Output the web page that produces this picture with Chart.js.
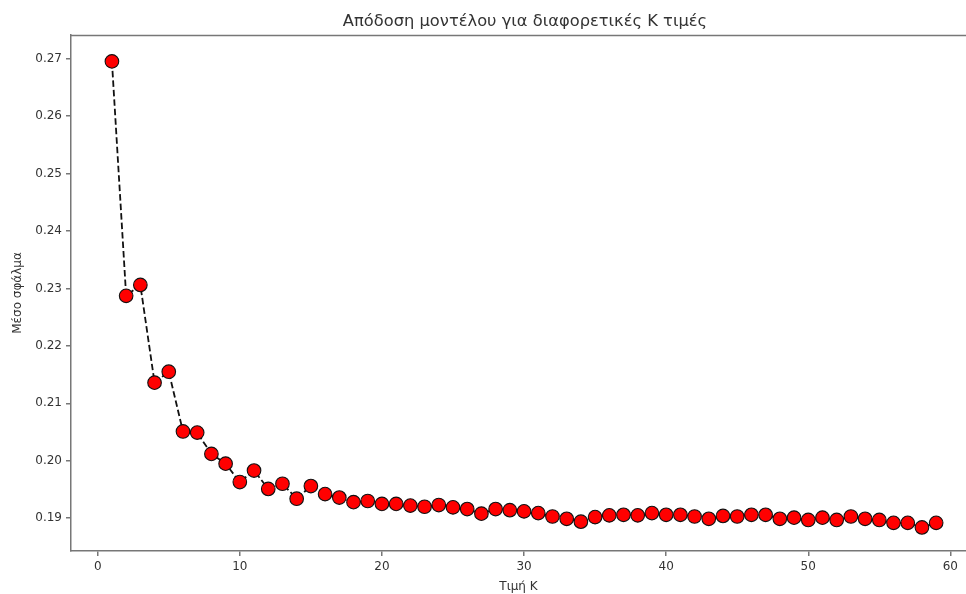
<!DOCTYPE html>
<html>
<head>
<meta charset="utf-8">
<script src="https://cdn.jsdelivr.net/npm/chart.js@4.4.1/dist/chart.umd.min.js"></script>
<style>
  html, body { margin: 0; padding: 0; background: #fff; }
  #wrap { width: 966px; height: 594px; }
</style>
</head>
<body>
<div id="wrap"><canvas id="chartCanvas" width="966" height="594"></canvas></div>
<script>
    /********** DATI **********/
    const kValues = [];
    for (let k = 1; k <= 59; k++) kValues.push(k);

    const meanError = [
      0.2695, 0.2287, 0.2306, 0.2136, 0.2155, 0.2051, 0.2049, 0.2012, 0.1995, 0.1963,
      0.1983, 0.1951, 0.1960, 0.1934, 0.1956, 0.1942, 0.1936, 0.1928, 0.1930, 0.1925,
      0.1925, 0.1922, 0.1920, 0.1923, 0.1919, 0.1916, 0.1908, 0.1916, 0.1914, 0.1912,
      0.1909, 0.1903, 0.1899, 0.1894, 0.1902, 0.1905, 0.1906, 0.1905, 0.1909, 0.1906,
      0.1906, 0.1903, 0.1899, 0.1904, 0.1903, 0.1906, 0.1906, 0.1899, 0.1901, 0.1897,
      0.1901, 0.1897, 0.1903, 0.1899, 0.1897, 0.1892, 0.1892, 0.1884, 0.1892
    ];

    const yTicks = [0.19, 0.20, 0.21, 0.22, 0.23, 0.24, 0.25, 0.26, 0.27];
    const xTicks = [0, 10, 20, 30, 40, 50, 60];

    const titleText = "Απόδοση μοντέλου για διαφορετικές K τιμές";
    const xLabel = "Τιμή K";
    const yLabel = "Μέσο σφάλμα";

    /********** STILE **********/
    const fontFamily = "'DejaVu Sans', sans-serif";
    const textColor = "#333";
    const spineColor = "#777";

    // spine superiore (il bordo destro è tagliato nell'originale)
    const framePlugin = {
      id: "frame",
      afterLayout(chart) {
        // l'asse originale continua oltre il bordo: il titolo è centrato su di esso
        if (chart.titleBlock) {
          chart.titleBlock.left = chart.chartArea.left;
          chart.titleBlock.right = 979;
        }
      },
      afterDraw(chart) {
        const a = chart.chartArea;
        const ctx = chart.ctx;
        ctx.save();
        ctx.strokeStyle = spineColor;
        ctx.lineWidth = 1.5;
        ctx.beginPath();
        ctx.moveTo(a.left, Math.round(a.top) + 0.5);
        ctx.lineTo(chart.width, Math.round(a.top) + 0.5);
        ctx.stroke();
        ctx.restore();
      }
    };

    const points = kValues.map((k, i) => ({ x: k, y: meanError[i] }));

    const ctx = document.getElementById("chartCanvas").getContext("2d");
    new Chart(ctx, {
      type: "line",
      data: {
        datasets: [{
          data: points,
          borderColor: "#111",
          borderWidth: 1.8,
          borderDash: [6.5, 3],
          tension: 0,
          fill: false,
          pointRadius: 6.8,
          pointBackgroundColor: "#ff0000",
          pointBorderColor: "#111",
          pointBorderWidth: 1.1
        }]
      },
      options: {
        responsive: false,
        animation: false,
        parsing: false,
        layout: { padding: 0, autoPadding: false },
        plugins: {
          legend: { display: false },
          tooltip: { enabled: false },
          title: {
            display: true,
            text: titleText,
            color: "#333",
            font: { family: fontFamily, size: 16.3, weight: "normal" },
            padding: { top: 12, bottom: 3.4 }
          }
        },
        scales: {
          x: {
            type: "linear",
            min: -1.88,
            max: 61.1,
            afterFit: s => { s.height = 43; s.paddingRight = 0; s.paddingLeft = 0; },
            afterBuildTicks: s => { s.ticks = xTicks.map(v => ({ value: v })); },
            grid: { drawOnChartArea: false, drawTicks: true, tickLength: 5, color: spineColor, lineWidth: 1.5 },
            border: { color: spineColor, width: 1.5 },
            ticks: {
              color: textColor,
              padding: 4,
              maxRotation: 0,
              font: { family: fontFamily, size: 12 }
            },
            title: {
              display: true,
              text: xLabel,
              color: textColor,
              font: { family: fontFamily, size: 12 },
              padding: { top: 0, bottom: 0 }
            }
          },
          y: {
            type: "linear",
            min: 0.1843,
            max: 0.2741,
            afterFit: s => { s.width = 71; },
            afterBuildTicks: s => { s.ticks = yTicks.map(v => ({ value: v })); },
            grid: { drawOnChartArea: false, drawTicks: true, tickLength: 5, color: spineColor, lineWidth: 1.5 },
            border: { color: spineColor, width: 1.5 },
            ticks: {
              color: textColor,
              padding: 4,
              font: { family: fontFamily, size: 12 },
              callback: v => v.toFixed(2)
            },
            title: {
              display: true,
              text: yLabel,
              color: textColor,
              font: { family: fontFamily, size: 12 },
              padding: { top: 11, bottom: 0 }
            }
          }
        }
      },
      plugins: [framePlugin]
    });
</script>
</body>
</html>
